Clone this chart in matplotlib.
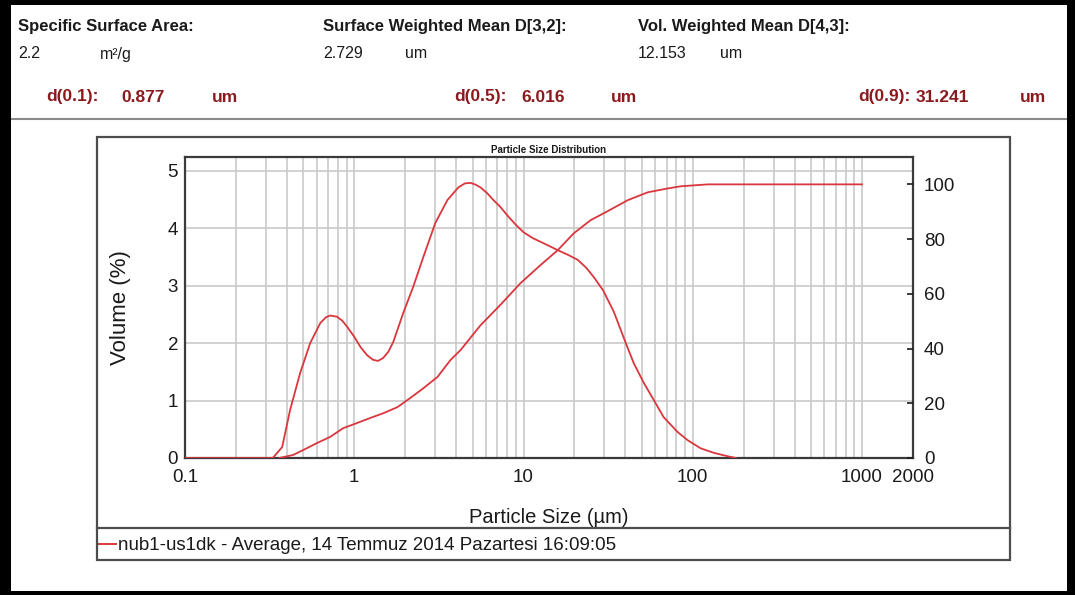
import matplotlib
matplotlib.use("Agg")
import matplotlib.pyplot as plt
from matplotlib.lines import Line2D
from matplotlib.patches import Rectangle
from matplotlib.ticker import FixedLocator, NullFormatter, NullLocator

# ---- data -------------------------------------------------------------
size_density = [0.1, 0.2, 0.33, 0.375, 0.418, 0.479, 0.549, 0.63, 0.68, 0.72,
                0.79, 0.85, 0.91, 1.0, 1.09, 1.19, 1.29, 1.38, 1.48, 1.59,
                1.70, 1.95, 2.23, 2.56, 3.01, 3.55, 4.12, 4.5, 4.86, 5.2,
                5.57, 6.1, 6.64, 7.3, 8.04, 9.0, 10.0, 11.3, 13.1, 15.9,
                18.5, 20.9, 23.5, 26.0, 29.5, 34.1, 40.2, 44.8, 51.3, 58.8,
                67.3, 81.5, 93.3, 111.0, 133.0, 161.0, 180.0]
volume_pct = [0.0, 0.0, 0.0, 0.19, 0.84, 1.48, 2.0, 2.35, 2.45, 2.48,
              2.46, 2.39, 2.28, 2.11, 1.93, 1.79, 1.71, 1.69, 1.74, 1.85,
              2.02, 2.53, 2.98, 3.50, 4.09, 4.49, 4.71, 4.78, 4.79, 4.76,
              4.71, 4.61, 4.49, 4.37, 4.22, 4.06, 3.93, 3.83, 3.74, 3.62,
              3.53, 3.45, 3.31, 3.15, 2.92, 2.55, 2.0, 1.65, 1.31, 1.01,
              0.71, 0.45, 0.31, 0.17, 0.09, 0.03, 0.0]

size_cumulative = [0.36, 0.435, 0.499, 0.604, 0.72, 0.86, 1.04, 1.24, 1.49,
                   1.80, 2.14, 2.56, 3.10, 3.70, 4.24, 5.57, 7.31, 9.6, 12.6,
                   15.9, 19.8, 24.9, 31.4, 41.2, 54.2, 71.0, 85.0, 123.0, 1000.0]
cumulative_pct = [0.0, 1.1, 2.9, 5.5, 7.7, 10.9, 12.8, 14.6, 16.4,
                  18.6, 21.9, 25.5, 29.6, 35.8, 39.4, 48.5, 56.0, 63.9, 70.5,
                  75.9, 82.1, 86.9, 90.2, 94.2, 97.1, 98.5, 99.3, 100.0, 100.0]

x_ticks = [0.1, 1, 10, 100, 1000, 2000]
x_tick_labels = ["0.1", "1", "10", "100", "1000", "2000"]
left_ticks = [0, 1, 2, 3, 4, 5]
right_ticks = [0, 20, 40, 60, 80, 100]

summary_head = ["Specific Surface Area:", "Surface Weighted Mean D[3,2]:",
                "Vol. Weighted Mean D[4,3]:"]
summary_value = ["2.2", "2.729", "12.153"]
summary_unit = ["m²/g", "um", "um"]
percentile_name = ["d(0.1):", "d(0.5):", "d(0.9):"]
percentile_value = ["0.877", "6.016", "31.241"]

legend_label = "nub1-us1dk - Average, 14 Temmuz 2014 Pazartesi 16:09:05"

# ---- fonts ------------------------------------------------------------
SANS = ["Liberation Sans", "DejaVu Sans"]
plt.rcParams["font.family"] = SANS
TICK_SIZE = 13.5

W, H = 1075, 595
fig = plt.figure(figsize=(W / 100, H / 100), dpi=100)
fig.patch.set_facecolor("white")


def fx(px):
    return px / W


def fy(py):
    return 1 - py / H


# ---- page frame -------------------------------------------------------
frame = [(0, 0, 11, H), (0, 0, W, 5), (1067, 0, W - 1067, H), (0, 591, W, 4)]
for x0, y0, w, h in frame:
    fig.patches.append(Rectangle((fx(x0), fy(y0 + h)), w / W, h / H,
                                 transform=fig.transFigure, facecolor="black",
                                 edgecolor="none", zorder=10))
fig.lines.append(Line2D([fx(11), fx(1067)], [fy(119), fy(119)],
                        transform=fig.transFigure, color="#8a8a8a", lw=1.5))

# ---- summary header ---------------------------------------------------
text_color = "#1a1a1a"
head_x = [18, 323, 638]
unit_x = [100, 405, 720]
for i in range(3):
    fig.text(fx(head_x[i]), fy(27), summary_head[i], fontsize=12,
             fontweight="bold", va="center", ha="left", color=text_color)
    fig.text(fx(head_x[i]), fy(54), summary_value[i], fontsize=11.5,
             va="center", ha="left", color=text_color)
    fig.text(fx(unit_x[i]), fy(54), summary_unit[i], fontsize=11.5,
             va="center", ha="left", color=text_color)

red_text = "#8b1a1e"
name_x = [46, 454, 858]
value_x = [121, 521, 916]
um_x = [212, 611, 1020]
for i in range(3):
    for xp, s in ((name_x[i], percentile_name[i]),
                  (value_x[i], percentile_value[i]),
                  (um_x[i], "um")):
        fig.text(fx(xp), fy(97), s, fontsize=12.5, fontweight="bold",
                 va="center", ha="left", color=red_text)

# ---- chart box and legend row -----------------------------------------
box_color = "#4d4d4d"
fig.patches.append(Rectangle((fx(97), fy(560)), (1010 - 97) / W, (560 - 137) / H,
                             transform=fig.transFigure, facecolor="none",
                             edgecolor=box_color, lw=1.6, zorder=5))
fig.lines.append(Line2D([fx(97), fx(1010)], [fy(528), fy(528)],
                        transform=fig.transFigure, color=box_color, lw=1.6))

line_color = "#d9373d"
fig.lines.append(Line2D([fx(98), fx(116)], [fy(544), fy(544)],
                        transform=fig.transFigure, color=line_color, lw=1.4))
fig.text(fx(118), fy(545), legend_label, fontsize=13.5, va="center", ha="left",
         color=text_color)

# ---- plot -------------------------------------------------------------
ax = fig.add_axes([fx(185), fy(458), (913 - 185) / W, (458 - 157) / H])
ax.set_xscale("log")
ax.set_xlim(0.1, 2000)
ax.set_ylim(0, 5.24)

grid_color = "#c9c9c9"
minor_pos = [m * 10.0 ** e for e in range(-1, 4) for m in range(1, 10)
             if 0.1 < m * 10.0 ** e < 2000]
for xv in minor_pos:
    ax.axvline(xv, color=grid_color, lw=1.2, zorder=0)
for yv in left_ticks[1:]:
    ax.axhline(yv, color=grid_color, lw=1.2, zorder=0)

ax.plot(size_density, volume_pct, color=line_color, lw=1.3, zorder=3)

ax.xaxis.set_major_locator(FixedLocator(x_ticks))
ax.set_xticklabels(x_tick_labels, fontsize=TICK_SIZE)
ax.xaxis.set_minor_locator(NullLocator())
ax.xaxis.set_minor_formatter(NullFormatter())
ax.tick_params(axis="x", length=0, pad=8, colors=text_color)
ax.set_yticks(left_ticks)
ax.set_yticklabels([str(v) for v in left_ticks], fontsize=TICK_SIZE)
ax.tick_params(axis="y", length=0, pad=5, colors=text_color)

for side in ("left", "bottom", "top", "right"):
    ax.spines[side].set_color("#3a3a3a")
    ax.spines[side].set_linewidth(1.6)

ax.set_xlabel("Particle Size (µm)", fontsize=14.5, labelpad=16, color=text_color)
ax.set_ylabel("Volume (%)", fontsize=16, labelpad=26, color=text_color)
ax.set_title("Particle Size Distribution", fontsize=7, fontweight="bold",
             pad=3, color=text_color)

ax2 = ax.twinx()
ax2.set_ylim(0, 110)
ax2.plot(size_cumulative, cumulative_pct, color=line_color, lw=1.3, zorder=3)
ax2.set_yticks(right_ticks)
ax2.set_yticklabels([str(v) for v in right_ticks], fontsize=TICK_SIZE)
ax2.tick_params(axis="y", direction="in", length=4, width=1.2, pad=8,
                colors=text_color)
for side in ("left", "bottom", "top", "right"):
    ax2.spines[side].set_visible(False)

fig.savefig("out.png", dpi=100, facecolor="white")
